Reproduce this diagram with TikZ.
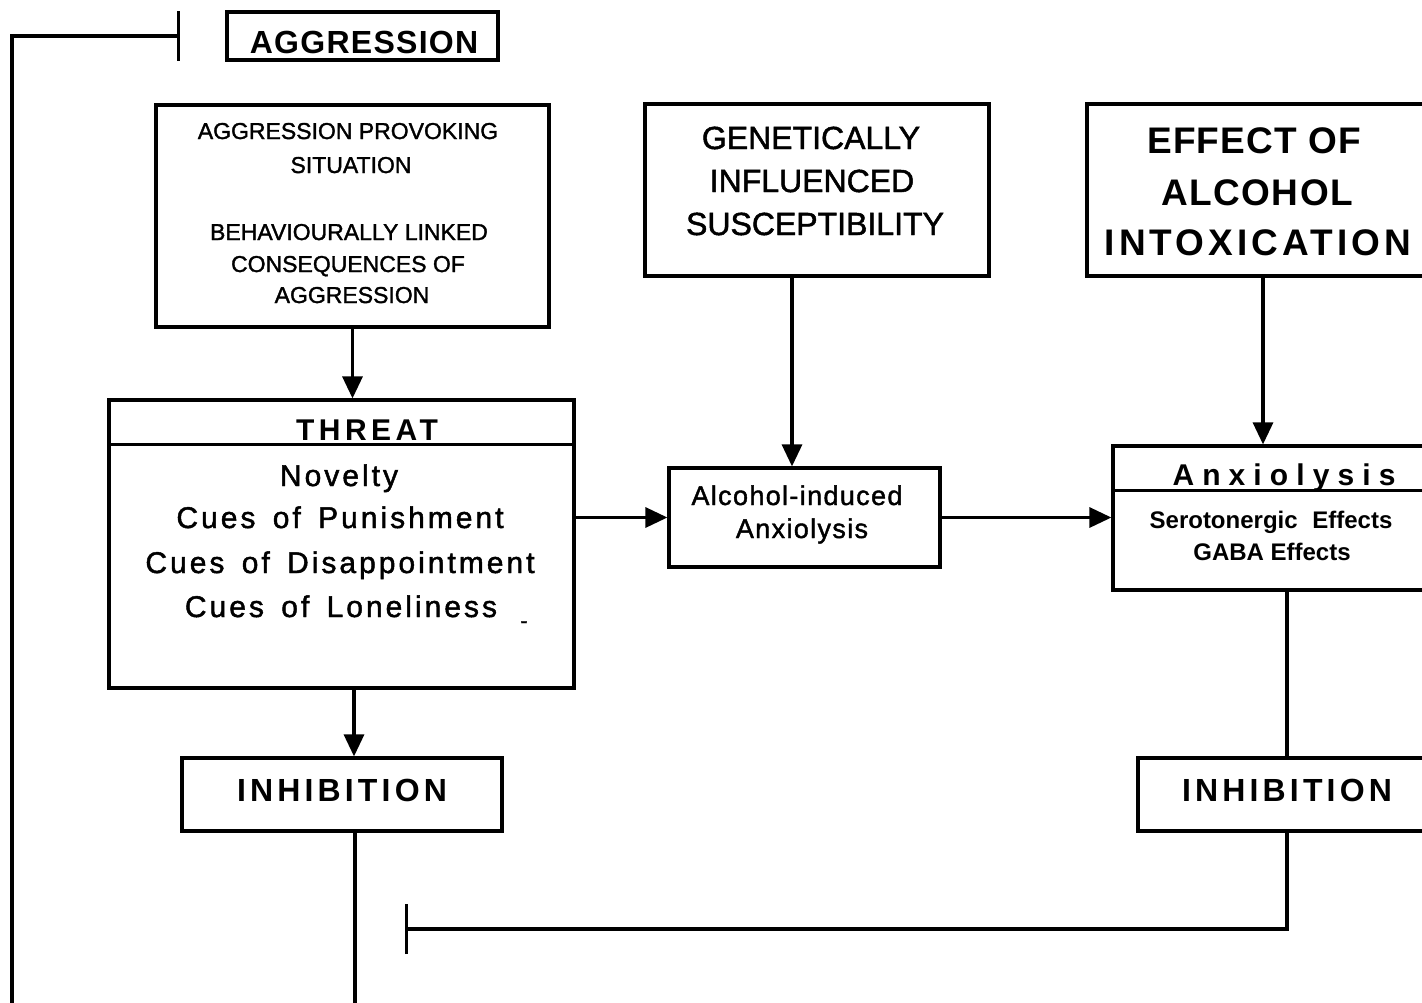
\documentclass[tikz,border=0pt]{standalone}
\usepackage{fontspec}
\setmainfont{Liberation Sans}
\usetikzlibrary{arrows.meta}
\begin{document}
\begin{tikzpicture}[x=1pt,y=-1pt,
  box/.style={draw, line width=3.2pt, inner sep=0pt},
  txt/.style={inner sep=0pt, anchor=base},
  ln/.style={line width=3.2pt},
  arr/.style={line width=3.2pt, -{Triangle[length=22pt,width=20pt]}},
  inh/.style={line width=3.2pt, -{Bar[width=50pt]}},
  fs/.style={font=\fontsize{#1}{#1}\selectfont\addfontfeature{FakeBold=1.5}}]
\useasboundingbox (0,0) rectangle (1422,1002);
\clip (0,0) rectangle (1422,1002);
% boxes
\node[box, minimum width=271pt, minimum height=48pt] (agg) at (362.5,36) {};
\node[box, minimum width=393pt, minimum height=222pt] (prov) at (352.5,216) {};
\node[box, minimum width=344pt, minimum height=172pt] (gen) at (817,190) {};
\node[box, minimum width=345pt, minimum height=172pt] (eff) at (1259.5,190) {};
\node[box, minimum width=465pt, minimum height=288pt] (threat) at (341.5,544) {};
\node[box, minimum width=271pt, minimum height=99pt] (alc) at (804.5,517.5) {};
\node[box, minimum width=319pt, minimum height=144pt] (anx) at (1272.5,518) {};
\node[box, minimum width=320pt, minimum height=73pt] (inhL) at (342,794.5) {};
\node[box, minimum width=294pt, minimum height=73pt] (inhR) at (1285,794.5) {};
% dividers
\draw[ln] ([yshift=-46pt]threat.north west) -- ([yshift=-46pt]threat.north east);
\draw[ln] ([yshift=-46pt]anx.north west) -- ([yshift=-46pt]anx.north east);
% texts
\node[txt, font=\fontsize{32}{32}\selectfont\bfseries\addfontfeature{LetterSpace=4}] (tagg) at (364,53) {AGGRESSION};
\node[txt, fs=23] (p1) at (348,139) {AGGRESSION PROVOKING};
\node[txt, fs=23] (p2) at (351,173) {SITUATION};
\node[txt, fs=23] (p3) at (349,240) {BEHAVIOURALLY LINKED};
\node[txt, fs=23] (p4) at (348,272) {CONSEQUENCES OF};
\node[txt, fs=23] (p5) at (352,303) {AGGRESSION};
\node[txt, fs=32] (g1t) at (811,149) {GENETICALLY};
\node[txt, fs=32] (g2t) at (812,192) {INFLUENCED};
\node[txt, fs=32] (g3t) at (815,235) {SUSCEPTIBILITY};
\node[txt, font=\fontsize{37}{37}\selectfont\bfseries\addfontfeature{LetterSpace=3}] (e1t) at (1254,153) {EFFECT OF};
\node[txt, font=\fontsize{37}{37}\selectfont\bfseries\addfontfeature{LetterSpace=4}] (e2t) at (1257,205) {ALCOHOL};
\node[txt, font=\fontsize{37}{37}\selectfont\bfseries\addfontfeature{LetterSpace=11}] (e3t) at (1258,255) {INTOXICATION};
\node[txt, font=\fontsize{30}{30}\selectfont\bfseries\addfontfeature{LetterSpace=15}] (th) at (367,440) {THREAT};
\node[txt, font=\fontsize{30}{30}\selectfont\addfontfeature{LetterSpace=10,FakeBold=1.5}] (b1) at (339,486) {Novelty};
\node[txt, font=\fontsize{30}{30}\selectfont\addfontfeature{LetterSpace=10,FakeBold=1.5}] (b2) at (340,528) {Cues\hspace{6pt} of\hspace{6pt} Punishment};
\node[txt, font=\fontsize{30}{30}\selectfont\addfontfeature{LetterSpace=10,FakeBold=1.5}] (b3) at (340,573) {Cues\hspace{6pt} of\hspace{6pt} Disappointment};
\node[txt, font=\fontsize{30}{30}\selectfont\addfontfeature{LetterSpace=10,FakeBold=1.5}] (b4) at (341,617) {Cues\hspace{6pt} of\hspace{6pt} Loneliness};
\node[txt, fs=22] (dash) at (524,628) {-};
\node[txt, font=\fontsize{27}{27}\selectfont\addfontfeature{LetterSpace=5,FakeBold=1.5}] (a1t) at (797,505) {Alcohol-induced};
\node[txt, font=\fontsize{27}{27}\selectfont\addfontfeature{LetterSpace=5,FakeBold=1.5}] (a2t) at (802,538) {Anxiolysis};
\node[txt, font=\fontsize{30}{30}\selectfont\bfseries\addfontfeature{LetterSpace=27}] (ah) at (1284,485) {Anxiolysis};
\node[txt, font=\fontsize{24}{24}\selectfont\bfseries] (s1) at (1271,528) {Serotonergic\hspace{8pt} Effects};
\node[txt, font=\fontsize{24}{24}\selectfont\bfseries] (s2) at (1272,560) {GABA Effects};
\node[txt, font=\fontsize{32}{32}\selectfont\bfseries\addfontfeature{LetterSpace=13}] (il) at (342,801) {INHIBITION};
\node[txt, font=\fontsize{32}{32}\selectfont\bfseries\addfontfeature{LetterSpace=13}] (ir) at (1287,801) {INHIBITION};
% connectors
\draw[arr] (prov.south) -- (prov.south |- threat.north);
\coordinate (gA) at ([xshift=-25pt]gen.south);
\draw[arr] (gA) -- (gA |- alc.north);
\coordinate (eA) at ([xshift=3.5pt]eff.south);
\draw[arr] (eA) -- (eA |- anx.north);
\draw[arr] (alc.west -| threat.east) -- (alc.west);
\draw[arr] (alc.east) -- (alc.east -| anx.west);
\coordinate (tA) at ([xshift=12.5pt]threat.south);
\draw[arr] (tA) -- (tA |- inhL.north);
\coordinate (aA) at ([xshift=14.5pt]anx.south);
\draw[ln] (aA) -- (aA |- inhR.north);
\coordinate (barR) at (405,929);
\coordinate (iA) at ([xshift=2pt]inhR.south);
\draw[inh] (iA) |- (barR);
\coordinate (outL) at (355,1012);
\coordinate (iB) at ([xshift=13pt]inhL.south);
\draw[ln] (iB) -- (iB |- outL);
\coordinate (fbS) at (12,1012);
\coordinate (fbE) at (180,36);
\draw[inh] (fbS) |- (fbE);
\end{tikzpicture}
\end{document}
